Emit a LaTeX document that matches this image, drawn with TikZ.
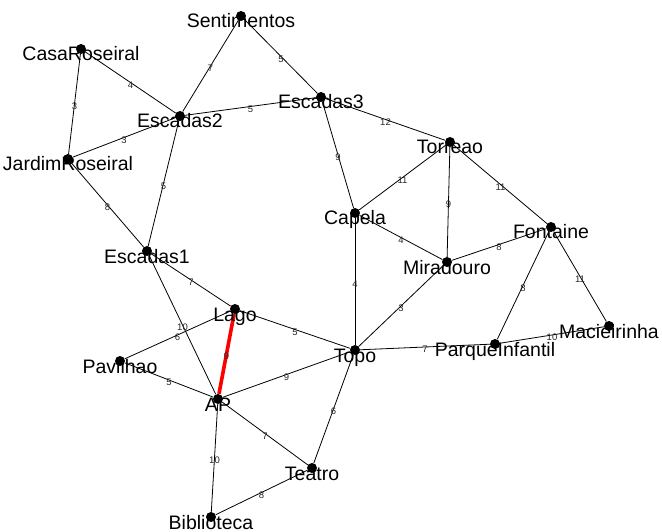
\documentclass[tikz,border=0pt]{standalone}
\usepackage{fontspec}
\setmainfont{Liberation Sans}
\begin{document}
\begin{tikzpicture}[x=1pt,y=-1pt,
  placedot/.style={circle,fill=black,inner sep=0pt,minimum size=10pt},
  placename/.style={anchor=base,inner sep=0pt,font=\fontsize{19.5}{20}\selectfont},
  weightlbl/.style={midway,yshift=-2.5pt,inner sep=0pt,text=black!85,font=\fontsize{9.5}{10}\selectfont},
  link/.style={draw=black,line width=0.8pt},
  hotlink/.style={draw=red,line width=3.6pt}]
\useasboundingbox (0,0) rectangle (662,532);
% places
\foreach \n/\x/\y in {Sentimentos/241/16, CasaRoseiral/81/49, Escadas2/180/116,
  Escadas3/321/97, JardimRoseiral/68/159, Torreao/450/142, Capela/355/213,
  Fontaine/551/227, Miradouro/447/262, Escadas1/147/251, Lago/235/309,
  Pavilhao/120/361, Topo/355/350, ParqueInfantil/495/344, Macieirinha/609/326,
  AP/218/399, Teatro/312/468, Biblioteca/211/517}
  \node[placedot] (\n) at (\x,\y) {};
% weighted paths
\foreach \a/\b/\w in {Sentimentos/Escadas2/7, Sentimentos/Escadas3/5,
  CasaRoseiral/Escadas2/4, CasaRoseiral/JardimRoseiral/3, Escadas2/JardimRoseiral/3,
  Escadas2/Escadas3/5, Escadas2/Escadas1/5, JardimRoseiral/Escadas1/8,
  Escadas3/Torreao/12, Escadas3/Capela/9, Torreao/Capela/11, Torreao/Miradouro/9,
  Torreao/Fontaine/11, Capela/Miradouro/4, Capela/Topo/4, Miradouro/Fontaine/8,
  Miradouro/Topo/3, Fontaine/ParqueInfantil/8, Fontaine/Macieirinha/11,
  ParqueInfantil/Macieirinha/10, Topo/ParqueInfantil/7, Escadas1/Lago/7,
  Escadas1/AP/10, Lago/Pavilhao/6, Lago/Topo/5, Pavilhao/AP/5, AP/Topo/9,
  AP/Teatro/7, AP/Biblioteca/10, Topo/Teatro/6, Teatro/Biblioteca/8}
  \path[link] (\a) -- node[weightlbl]{\w} (\b);
% highlighted path
\path[hotlink] (Lago) -- node[weightlbl]{9} (AP);
% place names
\foreach \n in {Sentimentos, CasaRoseiral, Escadas2, Escadas3, JardimRoseiral,
  Torreao, Capela, Fontaine, Miradouro, Escadas1, Lago, Pavilhao, Topo,
  ParqueInfantil, Macieirinha, AP, Teatro, Biblioteca}
  \node[placename] (\n-t) at ([yshift=-12pt]\n.center) {\n};
\end{tikzpicture}
\end{document}
